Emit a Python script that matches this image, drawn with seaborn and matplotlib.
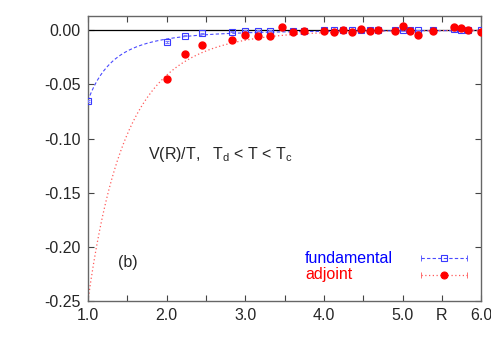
import numpy as np
import pandas as pd
import seaborn as sns
import matplotlib.pyplot as plt

# lattice distances R = sqrt(n)
R_fund = [1.0, 2.0, 2.236, 2.449, 2.828, 3.0, 3.162, 3.317, 3.606, 3.742, 4.0, 4.123,
          4.243, 4.359, 4.472, 4.583, 4.690, 4.899, 5.0, 5.099, 5.196, 5.385, 5.657,
          5.745, 5.831, 6.0]
V_fund = [-0.065, -0.0108, -0.0052, -0.0030, -0.0015, -0.0006, -0.0006, -0.0006, -0.0005,
          -0.0005, 0.0, 0.0003, 0.0003, -0.0002, 0.0003, 0.0, 0.0003, 0.0003, 0.0004,
          0.0003, -0.0002, 0.0003, 0.0010, -0.0002, 0.0, -0.0002]
E_fund = [0.001, 0.0008, 0.0006, 0.0005, 0.0005, 0.0005, 0.0005, 0.0005, 0.0005, 0.0005,
          0.0005, 0.0006, 0.0006, 0.0006, 0.0006, 0.0006, 0.0006, 0.0007, 0.0007, 0.0007,
          0.0007, 0.0007, 0.0008, 0.0008, 0.0008, 0.0008]

R_adj = [2.0, 2.236, 2.449, 2.828, 3.0, 3.162, 3.317, 3.464, 3.606, 3.742, 4.0, 4.123,
         4.243, 4.359, 4.472, 4.583, 4.690, 4.899, 5.0, 5.099, 5.196, 5.385, 5.657,
         5.745, 5.831, 6.0]
V_adj = [-0.0452, -0.0224, -0.0132, -0.0092, -0.0040, -0.0052, -0.0055, 0.0030, -0.0020,
         -0.0010, -0.0010, -0.0020, 0.0, -0.0020, 0.0010, -0.0010, 0.0, -0.0010, 0.0037,
         -0.0006, -0.0040, -0.0010, 0.0030, 0.0025, 0.0, -0.0015]
E_adj = [0.001, 0.001, 0.001, 0.001, 0.001, 0.001, 0.001, 0.0015, 0.001, 0.001, 0.001,
         0.001, 0.001, 0.0015, 0.001, 0.001, 0.001, 0.001, 0.0015, 0.001, 0.002, 0.001,
         0.0015, 0.0015, 0.001, 0.001]

series_names = ["fundamental", "adjoint"]

# fit parameters: V(R) = -A exp(-m (R-1)) / R^p
fit_fund = dict(A=0.065, m=0.0, p=3.0)
fit_adj = dict(A=0.25, m=1.1, p=1.0)


def fit_curve(R, A, m, p):
    return -A * np.exp(-m * (R - 1.0)) / R ** p


sns.set_theme(style="ticks")
plt.rcParams['font.family'] = ['Liberation Sans', 'DejaVu Sans']
plt.rcParams['mathtext.default'] = 'regular'
plt.rcParams['axes.unicode_minus'] = False

fig = plt.figure(figsize=(4.91, 3.43), dpi=100)
ax = fig.add_axes([0.179, 0.122, 0.801, 0.831])

styles = {
    "fundamental": dict(line="#4a4aff", ls=(0, (3, 2)), lw=0.8, marker="s",
                        mfc="none", mec="#3a3aff", text="blue"),
    "adjoint": dict(line="#ff5a5a", ls=(0, (1, 2)), lw=0.9, marker="o",
                    mfc="red", mec="red", text="red"),
}

R_grid = np.linspace(1.0, 6.0, 400)
curves = pd.DataFrame({
    "R": np.concatenate([R_grid, R_grid]),
    "V": np.concatenate([fit_curve(R_grid, **fit_fund), fit_curve(R_grid, **fit_adj)]),
    "rep": ["fundamental"] * len(R_grid) + ["adjoint"] * len(R_grid),
})
for name in series_names:
    st = styles[name]
    sns.lineplot(data=curves[curves.rep == name], x="R", y="V", ax=ax,
                 color=st["line"], lw=st["lw"], linestyle=st["ls"])

ax.axhline(0, color="black", lw=0.9, zorder=1)

ax.errorbar(R_fund, V_fund, yerr=E_fund, fmt="s", ms=5, mfc="none", mec="#3a3aff",
            mew=0.8, ecolor="#7a7aff", elinewidth=0.6, capsize=1.5, zorder=3)
ax.errorbar(R_adj, V_adj, yerr=E_adj, fmt="o", ms=5, color="red",
            ecolor="#ff6a6a", elinewidth=0.6, capsize=1.5, zorder=4)

ax.set_xlim(1.0, 6.0)
ax.set_ylim(-0.25, 0.013)
xt = np.arange(1.0, 6.01, 0.5)
ax.set_xticks(xt)
ax.set_xticklabels(["1.0", "", "2.0", "", "3.0", "", "4.0", "", "5.0", "R", "6.0"])
yt = [0.0, -0.05, -0.10, -0.15, -0.20, -0.25]
ax.set_yticks(yt)
ax.set_yticklabels([f"{v:.2f}" for v in yt])
ax.tick_params(direction="in", top=True, right=True, length=4, width=0.8,
               labelsize=11.5, color="#444444", pad=5)
for s in ax.spines.values():
    s.set_color("#666666")
    s.set_linewidth(1.0)
ax.set_xlabel("")
ax.set_ylabel("")

ax.text(1.76, -0.115, r"V(R)/T,   T$_{d}$ < T < T$_{c}$", fontsize=11.5,
        va="center", ha="left")
ax.text(1.38, -0.214, "(b)", fontsize=11.5, va="center", ha="left")

# gnuplot-style key: text left, sample with error-bar ends on the right
for name, ky in zip(series_names, [0.151, 0.093]):
    st = styles[name]
    ax.text(0.552, ky, name, transform=ax.transAxes, color=st["text"],
            fontsize=11.5, va="center", ha="left")
    ax.plot([0.847, 0.964], [ky, ky], transform=ax.transAxes, color=st["line"],
            lw=st["lw"], linestyle=st["ls"], clip_on=False)
    ax.plot([0.847, 0.964], [ky, ky], transform=ax.transAxes, linestyle="none",
            marker="|", ms=4, mew=0.6, color=st["line"], clip_on=False)
    ax.plot([0.906], [ky], transform=ax.transAxes, linestyle="none",
            marker=st["marker"], ms=5, mfc=st["mfc"], mec=st["mec"], mew=0.8,
            clip_on=False)

fig.savefig("out.png", dpi=100)
